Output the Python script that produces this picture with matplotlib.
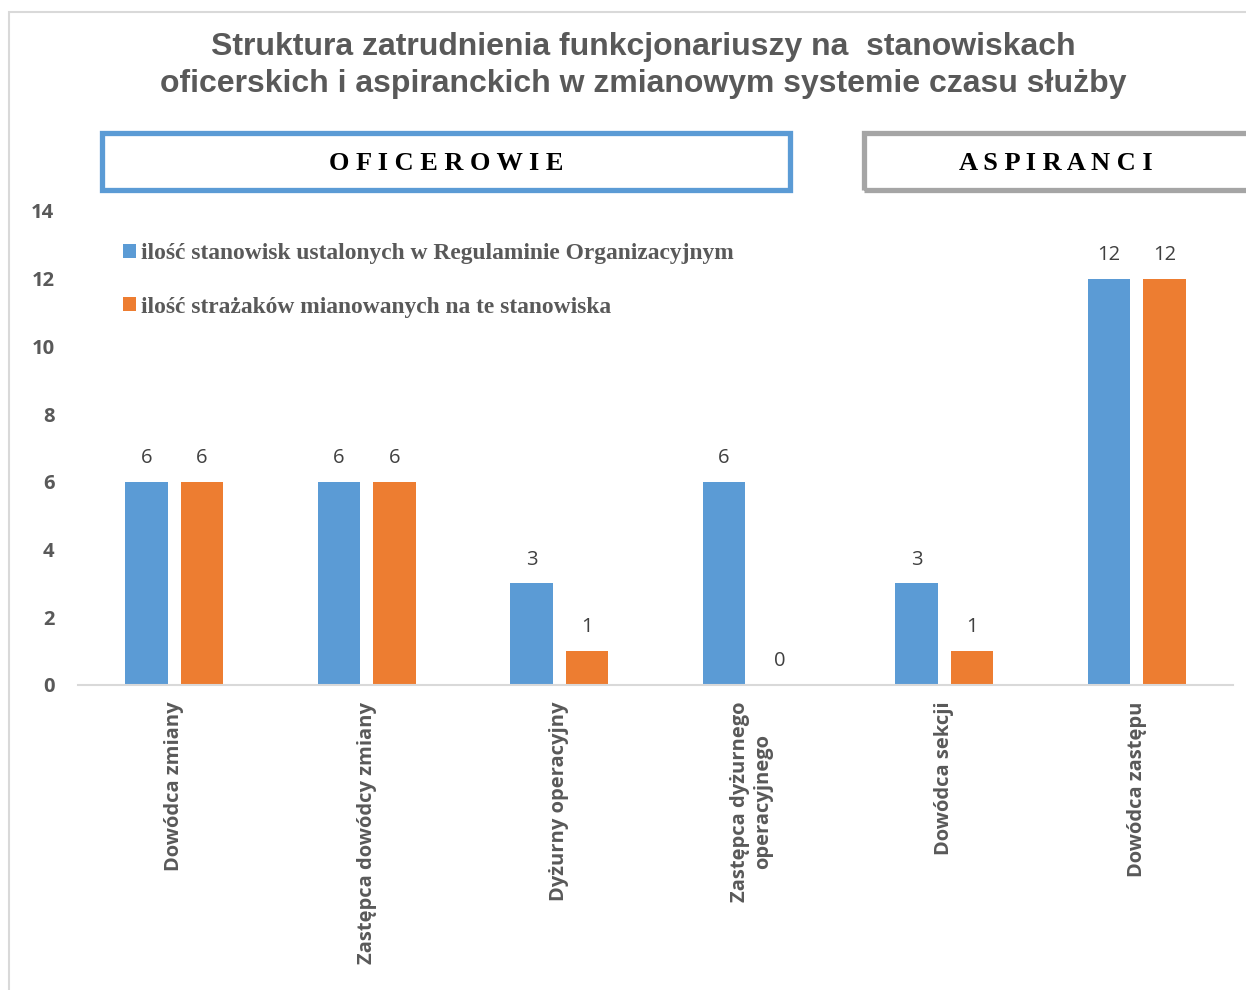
import numpy as np
import matplotlib
matplotlib.use("Agg")
import matplotlib.pyplot as plt
from matplotlib.patches import Rectangle
from matplotlib import font_manager

# dane
categories = ["Dowódca zmiany", "Zastępca dowódcy zmiany", "Dyżurny operacyjny",
              "Zastępca dyżurnego\noperacyjnego", "Dowódca sekcji", "Dowódca zastępu"]
ustalone = [6, 6, 3, 6, 3, 12]
mianowani = [6, 6, 1, 0, 1, 12]
series_names = ["ilość stanowisk ustalonych w Regulaminie Organizacyjnym",
                "ilość strażaków mianowanych na te stanowiska"]
y_ticks = [0, 2, 4, 6, 8, 10, 12, 14]

BLUE = "#5B9BD5"
ORANGE = "#ED7D31"
GRAY_TXT = "#595959"
W, H = 1246, 990

names = {f.name for f in font_manager.fontManager.ttflist}
title_font = ["Liberation Sans Narrow", "Liberation Sans"] if "Liberation Sans Narrow" in names else ["Liberation Sans"]

fig = plt.figure(figsize=(W / 100, H / 100), dpi=100)


def fx(px):
    return px / W


def fy(py):
    return 1 - py / H


# ramka wykresu
fig.add_artist(Rectangle((fx(9), fy(1000)), fx(1300), fy(12) - fy(1000), transform=fig.transFigure,
                         fill=False, edgecolor="#D9D9D9", linewidth=1.5))

ax = fig.add_axes([fx(78), fy(685), fx(1233) - fx(78), fy(211) - fy(685)])

x = np.arange(len(categories))
bw = 0.223
off = 0.144
b1 = ax.bar(x - off, ustalone, width=bw, color=BLUE, label=series_names[0])
b2 = ax.bar(x + off, mianowani, width=bw, color=ORANGE, label=series_names[1])

for bars in (b1, b2):
    ax.bar_label(bars, padding=10, fontsize=14.5, color="#404040", family="Open Sans")

ax.set_xlim(-0.5, len(categories) - 0.5)
ax.set_ylim(0, 14)
ax.set_yticks(y_ticks)
ax.set_yticklabels([str(v) for v in y_ticks], fontsize=14.5, fontweight="bold", color=GRAY_TXT, family="Open Sans")
ax.set_xticks(x)
ax.set_xticklabels(categories, rotation=90, fontsize=14.5, fontweight="bold", color=GRAY_TXT,
                   family="Open Sans", va="top", ha="center", multialignment="center")
ax.tick_params(axis="both", length=0)
ax.tick_params(axis="y", pad=17)
ax.tick_params(axis="x", pad=12)
for s in ["top", "right", "left"]:
    ax.spines[s].set_visible(False)
ax.spines["bottom"].set_color("#D9D9D9")
ax.spines["bottom"].set_linewidth(1.5)

leg = ax.legend(loc="upper left", bbox_to_anchor=(fx(102), fy(222)), bbox_transform=fig.transFigure,
                frameon=False, handlelength=0.55, handleheight=0.55, handletextpad=0.2, labelspacing=1.38,
                prop={"family": "Liberation Serif", "weight": "bold", "size": 16.9})
for t in leg.get_texts():
    t.set_color(GRAY_TXT)

# tytuł
fig.text(fx(643), fy(47), "Struktura zatrudnienia funkcjonariuszy na  stanowiskach", ha="center", va="center",
         fontsize=23, fontweight="bold", color=GRAY_TXT, family=title_font)
fig.text(fx(643), fy(84), "oficerskich i aspiranckich w zmianowym systemie czasu służby", ha="center", va="center",
         fontsize=23, fontweight="bold", color=GRAY_TXT, family=title_font)

# ramki grup
fig.add_artist(Rectangle((fx(101.5), fy(189.5)), fx(789.5) - fx(101.5), fy(132.5) - fy(189.5),
                         transform=fig.transFigure, fill=False, edgecolor=BLUE, linewidth=3.8))
fig.add_artist(Rectangle((fx(864), fy(189.5)), fx(1300) - fx(864), fy(132.5) - fy(189.5),
                         transform=fig.transFigure, fill=False, edgecolor="#A5A5A5", linewidth=3.8))
fig.text(fx(446), fy(164), "O F I C E R O W I E", ha="center", va="center", fontsize=19, fontweight="bold",
         color="black", family="Liberation Serif")
fig.text(fx(1056), fy(164), "A S P I R A N C I", ha="center", va="center", fontsize=19, fontweight="bold",
         color="black", family="Liberation Serif")

fig.savefig("out.png", dpi=100)
